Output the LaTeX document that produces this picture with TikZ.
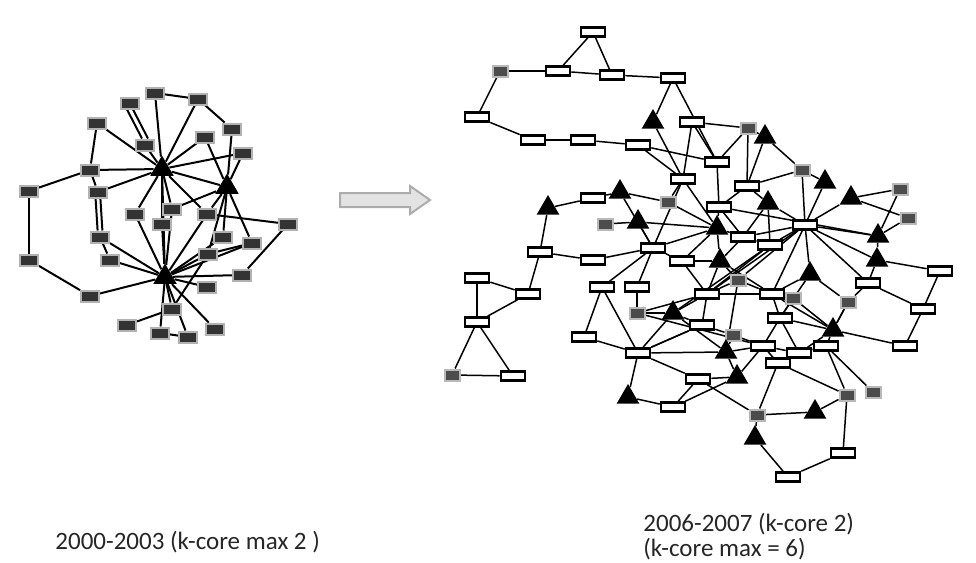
\documentclass[tikz,border=0pt]{standalone}
\usepackage{fontspec}
\setmainfont{Carlito}
\usetikzlibrary{shapes.geometric,shapes.arrows}
\pgfdeclarelayer{background}
\pgfsetlayers{background,main}
\begin{document}
\begin{tikzpicture}[x=0.5pt,y=-0.5pt,
  lbox/.style={rectangle,fill=black!80,draw=gray!60,line width=1pt,minimum width=9pt,minimum height=5.5pt,inner sep=0pt},
  ltri/.style={regular polygon,regular polygon sides=3,fill=black,inner sep=0pt,minimum size=13.5pt},
  rbox/.style={rectangle,fill=white,draw=black,line width=1.3pt,minimum width=12pt,minimum height=4.5pt,inner sep=0pt},
  gbox/.style={rectangle,fill=black!70,draw=gray!55,line width=1pt,minimum width=7.5pt,minimum height=5.5pt,inner sep=0pt},
  rtri/.style={regular polygon,regular polygon sides=3,fill=black,inner sep=0pt,minimum size=13pt},
  ledge/.style={line width=1pt,black},
  redge/.style={line width=0.75pt,black},
  caption/.style={anchor=west,inner sep=0pt,text=black!85,font=\fontsize{12.5}{15}\selectfont}]
\useasboundingbox (0,0) rectangle (976,563);

% ---------- network 2000-2003 ----------
\foreach \n/\x/\y in {a1/155/93,a2/130/103,a3/198/99,a4/97/123,a5/145/145,a6/205/137,
  a7/232/129,a8/243/153,a9/90/170,a10/29/191,a11/98/192,a12/135/214,a13/172/209,
  a14/162/224,a15/207/214,a16/288/224,a17/100/237,a18/223/237,a19/252/243,a20/110/260,
  a21/29/260,a22/208/254,a23/242/275,a24/207/287,a25/90/296,a26/172/309,a27/127/325,
  a28/215/329,a29/160/333,a30/188/337}
  \node[lbox] (\n) at (\x,\y) {};
\node[ltri] (ta1) at (162,169) {};
\node[ltri] (ta2) at (227,187) {};
\node[ltri] (ta3) at (165,277) {};

\begin{pgfonlayer}{background}
\foreach \a/\b in {a10/a9,a10/a21,a21/a25,a25/ta3,a9/ta1,a4/a9,a4/ta1,a11/ta1,
  a17/ta3,a17/a20,a1/ta1,a1/a3,a3/ta1,a3/a7,a5/ta1,a6/ta1,a6/ta2,a7/ta2,
  a8/ta1,a8/ta2,ta1/ta2,ta1/a12,ta1/a13,ta1/a14,ta1/a15,ta1/ta3,ta2/a13,ta2/a15,
  ta2/a18,ta2/a19,a15/a16,a16/a23,ta3/a12,ta3/a14,ta3/a22,ta3/a18,ta3/a19,ta3/a23,
  ta3/a24,ta3/a26,a27/a26,ta3/a28,ta3/a29,ta3/a30,ta3/a20,a29/a30,a26/a22,
  ta3/a15,a22/a19,ta3/a13,a9/a11,ta2/a22}
  \draw[ledge] (\a) -- (\b);
\draw[ledge] ([xshift=-1.5pt]a2.south) -- ([xshift=-1.5pt]a5.north);
\draw[ledge] ([xshift=1.5pt]a2.south) -- ([xshift=1.5pt]a5.north);
\draw[ledge] ([xshift=-1.2pt]a11.south) -- ([xshift=-1.2pt]a17.north);
\draw[ledge] ([xshift=1.2pt]a11.south) -- ([xshift=1.2pt]a17.north);
\end{pgfonlayer}

% ---------- transition arrow ----------
\node[single arrow,draw=gray!65,fill=gray!22,line width=1pt,inner sep=3pt,
  minimum height=45pt,single arrow head extend=3.5pt,single arrow tip angle=70]
  (shift) at (380,200) {};

% ---------- network 2006-2007 ----------
\foreach \n/\x/\y in {r1/593/32,r2/558/71,r3/612/75,r4/673/78,r5/477/117,r6/533/140,
  r7/583/140,r8/638/145,r9/692/122,r10/717/162,r11/683/179,r12/747/186,r13/593/198,
  r14/719/207,r15/805/225,r16/743/237,r17/770/245,r18/653/248,r19/540/252,r20/593/260,
  r21/682/261,r22/477/278,r23/528/294,r24/602/287,r25/637/287,r26/707/294,r27/772/294,
  r28/868/283,r29/940/271,r30/477/322,r31/702/325,r32/780/318,r33/923/309,r34/584/337,
  r35/638/353,r36/763/346,r37/799/353,r38/826/346,r39/905/346,r40/778/363,r41/513/376,
  r42/698/379,r43/673/407,r44/843/453,r45/788/477}
  \node[rbox] (\n) at (\x,\y) {};
\foreach \n/\x/\y in {g1/500/71,g2/748/128,g3/802/170,g4/668/202,g5/900/189,g6/908/218,
  g7/605/224,g8/738/280,g9/793/298,g10/848/302,g11/637/313,g12/733/335,g13/452/375,
  g14/847/395,g15/873/392,g16/757/415}
  \node[gbox] (\n) at (\x,\y) {};
\foreach \n/\x/\y in {t1/653/122,t2/765/137,t3/825/182,t4/851/198,t5/620/192,t6/548/208,
  t7/768/203,t8/638/222,t9/717/228,t10/878/236,t11/720/261,t12/877/260,t13/810/274,
  t14/673/313,t15/833/330,t16/726/352,t17/737/377,t18/628/397,t19/815/412,t20/755/438}
  \node[rtri] (\n) at (\x,\y) {};

\begin{pgfonlayer}{background}
\foreach \a/\b in {r1/r2,r1/r3,g1/r2,r2/r3,r3/r4,g1/r5,r5/r6,r6/r7,r7/r8,r4/t1,r4/r10,
  r8/r11,t1/r11,r9/r11,r9/r10,r9/g2,g2/t2,g2/r10,g2/r12,t2/r12,r10/r14,r11/t9,r11/g4,
  r12/r14,r12/t7,r14/t9,r14/r16,
  t6/r13,r13/t5,t5/g4,t6/r19,r19/r23,r19/r20,r22/r23,r22/r30,r30/r23,r30/g13,r30/r41,
  g13/r41,r34/r24,r34/r35,r20/r18,r18/r25,r18/r24,r25/g11,g11/t14,g11/r26,t14/r35,
  t14/r26,t14/r31,g7/t8,t8/r18,t8/t9,r18/t9,r18/r21,r21/t11,r21/r26,t11/r16,t11/r26,
  t11/g8,t9/r16,t9/r21,t9/t11,r16/r17,r17/t7,r16/t7,r15/r16,r15/r17,g4/t9,r11/r18,
  t5/r18,t14/t16,t14/r17,
  r26/r27,r26/r31,r26/g8,g8/r27,g8/t16,r31/g12,r31/r35,g12/t16,t16/r36,g12/r36,
  r27/g9,r27/r32,r27/t15,g9/r32,g9/t15,r32/t15,r32/r37,r32/r36,t15/r38,t15/r37,
  t15/r39,t15/g10,r36/r37,r37/r38,r40/r36,r40/g14,r38/g14,t17/r42,t17/r36,t17/t16,
  r42/r43,r43/t18,r42/r35,t18/r35,g16/r42,g16/t19,g16/r40,t20/r45,t19/g14,g14/r44,
  r44/r45,g15/r38,g16/t20,r43/t17,r35/t16,r35/r31,
  g3/t3,g3/r15,t3/r15,t4/g5,t4/r15,t4/g6,g5/t10,g6/t10,r15/t10,r15/t12,r15/r28,
  r15/t13,t10/t12,t12/r29,t12/r28,r28/r33,r29/r33,r33/r39,r28/g10,g10/t15,r15/r27,
  t13/r27,t13/g10,t7/r15,r12/g3,r15/g8,r15/r26,t11/r27,r17/r26,t13/r32,r14/t10,
  r8/r10,t2/g3,r24/r35,g11/r36}
  \draw[redge] (\a) -- (\b);
\end{pgfonlayer}

% ---------- captions ----------
\node[caption] (cap1) at (55,542) {2000-2003 (k-core max 2 )};
\node[caption] (cap2) at (643,524) {2006-2007 (k-core 2)};
\node[caption] (cap3) at (643,549) {(k-core max = 6)};
\end{tikzpicture}
\end{document}
